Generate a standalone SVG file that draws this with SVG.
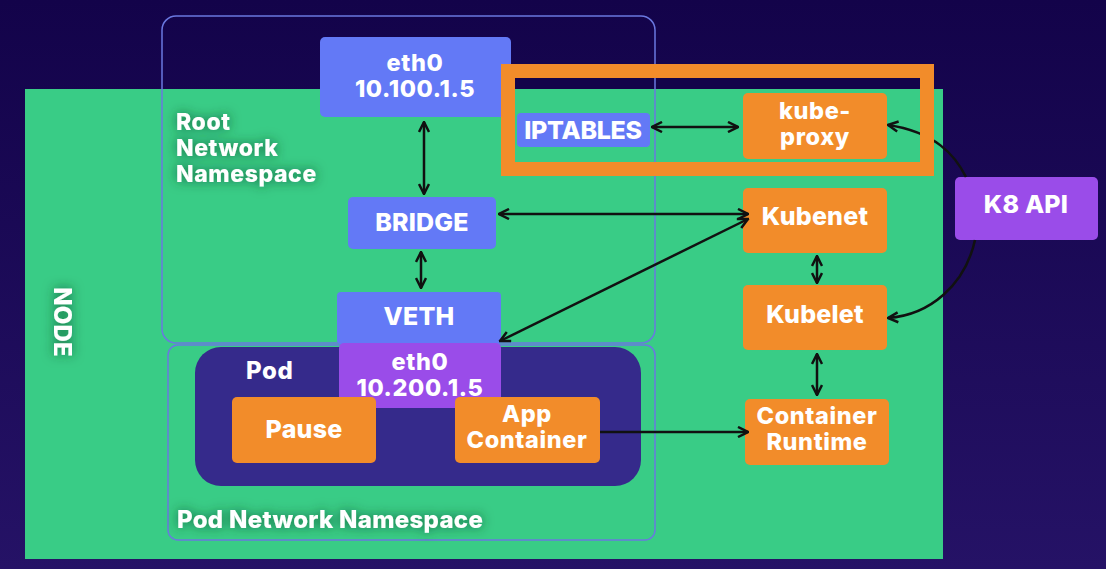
<svg xmlns="http://www.w3.org/2000/svg" width="1106" height="569" viewBox="0 0 1106 569">
<defs>
<linearGradient id="bg" x1="0" y1="0" x2="0" y2="1">
<stop offset="0" stop-color="#13034a"/>
<stop offset="1" stop-color="#251266"/>
</linearGradient>
<marker id="ah" viewBox="0 0 10 10" refX="9" refY="5" markerWidth="5" markerHeight="5" orient="auto-start-reverse">
<path d="M1,1 L9,5 L1,9" fill="none" stroke="#111" stroke-width="2"/>
</marker>
<filter id="sh" x="-30%" y="-30%" width="160%" height="160%">
<feDropShadow dx="0" dy="0" stdDeviation="6" flood-color="#0a3a20" flood-opacity="0.7"/>
</filter>
</defs>
<style>
.t{font-family:Inter,"Liberation Sans",sans-serif;font-weight:800;fill:#fff;text-anchor:middle;font-size:25px;letter-spacing:0.2px}
.t2{font-family:Inter,"Liberation Sans",sans-serif;font-weight:800;fill:#fff;text-anchor:middle;font-size:23.5px;letter-spacing:0.6px}
.l{font-family:Inter,"Liberation Sans",sans-serif;font-weight:800;fill:#fff;font-size:23px;letter-spacing:0.6px}
.blue{fill:#6379f6}
.org{fill:#f28c2a}
.pur{fill:#9a4ce9}
.ns{fill:none;stroke:#6a78e0;stroke-width:1.5}
.c{fill:none;stroke:#111;stroke-width:2.5;marker-start:url(#ah);marker-end:url(#ah)}
.c1{fill:none;stroke:#111;stroke-width:2.5;marker-end:url(#ah)}
</style>
<rect width="1106" height="569" fill="url(#bg)"/>
<rect id="node-bg" x="25" y="89" width="918" height="470" fill="#39cc86"/>
<g id="node-label"><text class="t" style="font-size:24px" transform="translate(54,322) rotate(90)" filter="url(#sh)">NODE</text></g>
<g id="root-ns">
<rect class="ns" x="162" y="16" width="493" height="327" rx="14"/>
<text class="l" filter="url(#sh)"><tspan x="176" y="130">Root</tspan><tspan x="176" y="156">Network</tspan><tspan x="176" y="182">Namespace</tspan></text>
</g>
<g id="pod-ns">
<rect class="ns" x="168" y="345" width="487" height="195" rx="10"/>
<text class="l" style="font-size:24px;letter-spacing:0.3px" x="177" y="528" filter="url(#sh)">Pod Network Namespace</text>
</g>
<g id="pod">
<rect x="195" y="347" width="446" height="139" rx="26" fill="#352a8b"/>
<text class="l" style="font-size:24px" x="246" y="379">Pod</text>
</g>
<g id="eth0-root"><rect class="blue" x="320" y="37" width="191" height="80" rx="5"/>
<text class="t2"><tspan x="415" y="71">eth0</tspan><tspan x="415" y="97">10.100.1.5</tspan></text></g>
<g id="bridge"><rect class="blue" x="348" y="197" width="148" height="52" rx="5"/><text class="t" x="422" y="231">BRIDGE</text></g>
<g id="veth"><rect class="blue" x="337" y="292" width="164" height="52" rx="4"/><text class="t" x="419" y="325">VETH</text></g>
<g id="eth0-pod"><rect class="pur" x="339" y="343" width="162" height="65" rx="5"/>
<text class="t2"><tspan x="420" y="370">eth0</tspan><tspan x="420" y="396">10.200.1.5</tspan></text></g>
<g id="pause"><rect class="org" x="232" y="397" width="144" height="66" rx="5"/><text class="t" x="304" y="438">Pause</text></g>
<g id="app"><rect class="org" x="455" y="397" width="145" height="66" rx="5"/>
<text class="t2"><tspan x="527" y="422">App</tspan><tspan x="527" y="448">Container</tspan></text></g>
<g id="iptables"><rect class="blue" x="517" y="113" width="133" height="34" rx="4"/><text class="t" style="letter-spacing:-0.3px" x="583" y="139">IPTABLES</text></g>
<g id="kube-proxy"><rect class="org" x="743" y="93" width="144" height="66" rx="5"/>
<text class="t2"><tspan x="815" y="119">kube-</tspan><tspan x="815" y="145">proxy</tspan></text></g>
<g id="kubenet"><rect class="org" x="743" y="188" width="144" height="65" rx="5"/><text class="t" x="815" y="225">Kubenet</text></g>
<g id="kubelet"><rect class="org" x="743" y="285" width="144" height="65" rx="5"/><text class="t" x="815" y="323">Kubelet</text></g>
<g id="runtime"><rect class="org" x="745" y="399" width="144" height="66" rx="5"/>
<text class="t2"><tspan x="817" y="424">Container</tspan><tspan x="817" y="450">Runtime</tspan></text></g>
<g id="k8api"><rect class="pur" x="955" y="177" width="143" height="63" rx="5"/><text class="t" x="1026" y="213">K8 API</text></g>
<g id="connectors">
<line class="c" x1="424" y1="122" x2="424" y2="194"/>
<line class="c" x1="421" y1="252" x2="421" y2="288"/>
<line class="c" x1="499" y1="214" x2="748" y2="214"/>
<line class="c" x1="652" y1="127" x2="738" y2="127"/>
<line class="c" x1="748" y1="219" x2="500" y2="341"/>
<line class="c" x1="817" y1="256" x2="817" y2="283"/>
<line class="c" x1="817" y1="354" x2="817" y2="395"/>
<line class="c1" x1="600" y1="432" x2="748" y2="432"/>
<path class="c1" d="M966,177 C955,155 935,132 888,125"/>
<path class="c1" d="M975,240 C965,285 930,315 888,318"/>
</g>
<g id="highlight"><rect x="508" y="71" width="419" height="98" fill="none" stroke="#f28c2a" stroke-width="14"/><rect x="515" y="78" width="405" height="11" fill="#13034a"/><line x1="655" y1="78" x2="655" y2="89" stroke="#6a78e0" stroke-width="1.5"/></g>
</svg>
